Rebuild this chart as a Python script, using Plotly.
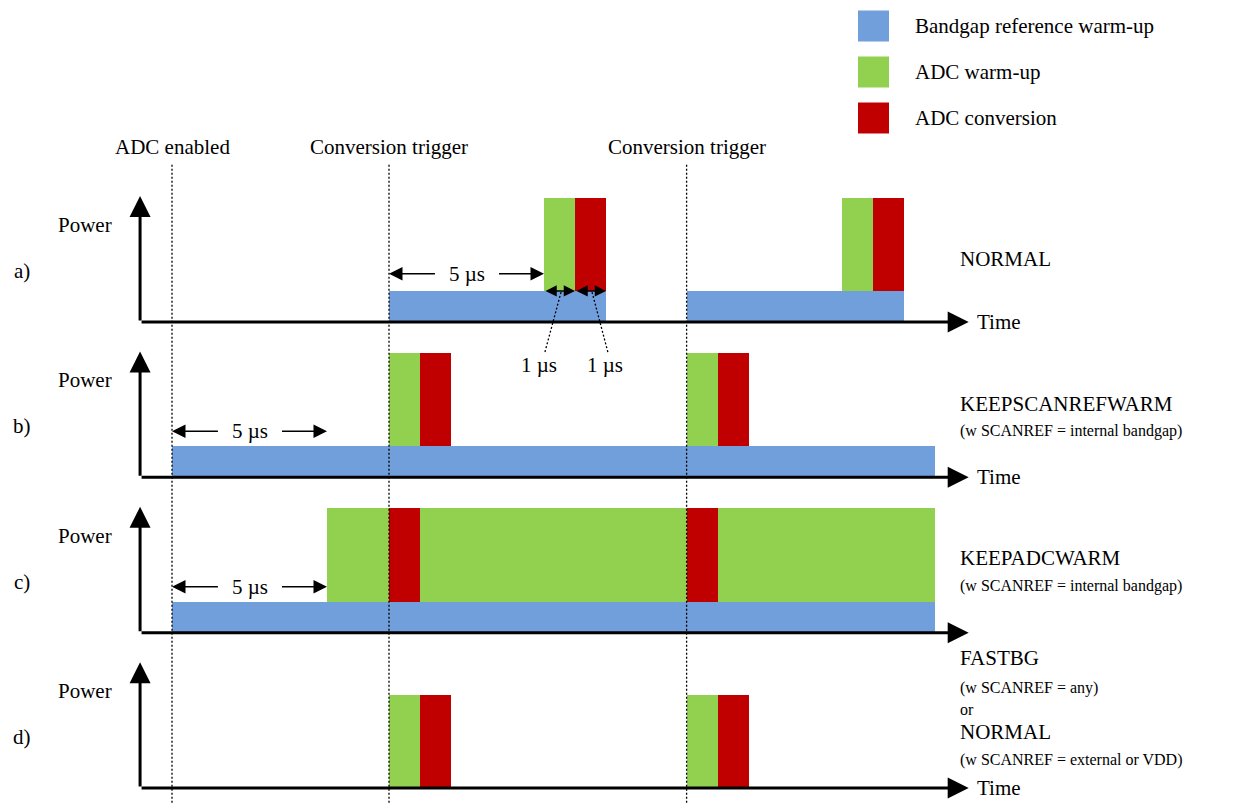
import plotly.graph_objects as go

BLUE = "#719fdc"
GREEN = "#92d050"
RED = "#c00000"
FONT = "Liberation Serif"

# ---- data (time in µs, power in arbitrary units) ----
row_names = ["a)", "b)", "c)", "d)"]
row_base = [15, 10, 5, 0]
mode_labels = [
    [("NORMAL", 2.03, 21)],
    [("KEEPSCANREFWARM", 2.35, 21), ("(w SCANREF = internal bandgap)", 1.48, 16)],
    [("KEEPADCWARM", 2.4, 21), ("(w SCANREF = internal bandgap)", 1.51, 16)],
    [("FASTBG", 4.19, 21), ("(w SCANREF = any)", 3.22, 16), ("or", 2.54, 16),
     ("NORMAL", 1.8, 21), ("(w SCANREF = external or VDD)", 0.9, 16)],
]
show_time = [True, True, False, True]

t_enable = 0.0
t_trigger = [7.0, 16.6]
t_axis_start = -1.03
t_axis_end = 25.7

# bandgap reference warm-up segments
blue_row = [0, 0, 1, 2]
blue_start = [7.0, 16.6, 0.0, 0.0]
blue_len = [7.0, 7.0, 24.6, 24.6]
blue_level = [0, 0, 0, 0]
blue_h = 1.0

# ADC warm-up segments
green_row = [0, 0, 1, 1, 2, 3, 3]
green_start = [12.0, 21.6, 7.0, 16.6, 5.0, 7.0, 16.6]
green_len = [1.0, 1.0, 1.0, 1.0, 19.6, 1.0, 1.0]
green_level = [1, 1, 1, 1, 1, 0, 0]

# ADC conversion segments
red_row = [0, 0, 1, 1, 2, 2, 3, 3]
red_start = [13.0, 22.6, 8.0, 17.6, 7.0, 16.6, 8.0, 17.6]
red_len = [1.0] * 8
red_level = [1, 1, 1, 1, 1, 1, 0, 0]
adc_h = 3.0

# 5 µs spans
span_row = [0, 1, 2]
span_start = [7.0, 0.0, 0.0]
span_len = [5.0, 5.0, 5.0]
span_y = [1.55, 1.48, 1.48]

# 1 µs spans (row a)
small_start = [12.0, 13.0]
small_len = [1.0, 1.0]

legend_names = ["Bandgap reference warm-up", "ADC warm-up", "ADC conversion"]
legend_colors = [BLUE, GREEN, RED]

# page offset of the plot inside the browser window
OFF = 8
W, H = 1246, 803

fig = go.Figure()


def add_bars(rows, starts, lens, levels, h, color, name):
    fig.add_trace(go.Bar(
        orientation="h",
        base=starts,
        x=lens,
        y=[row_base[r] + lv + h / 2 for r, lv in zip(rows, levels)],
        width=[h] * len(rows),
        marker=dict(color=color, line=dict(width=0)),
        name=name, showlegend=False, hoverinfo="skip"))


add_bars(blue_row, blue_start, blue_len, blue_level, blue_h, BLUE, legend_names[0])
add_bars(green_row, green_start, green_len, green_level, adc_h, GREEN, legend_names[1])
add_bars(red_row, red_start, red_len, red_level, adc_h, RED, legend_names[2])

ann = []


def note(x, y, text, size=21, xanchor="center"):
    ann.append(dict(x=x, y=y, xref="x", yref="y", text=text, showarrow=False,
                    xanchor=xanchor, yanchor="middle",
                    font=dict(family=FONT, size=size, color="black")))


def arrow(x0, y0, x1, y1, width=1.5, size=1.8, both=False):
    ann.append(dict(x=x1, y=y1, ax=x0, ay=y0, xref="x", yref="y",
                    axref="x", ayref="y", text="", showarrow=True,
                    arrowhead=2, startarrowhead=2, arrowwidth=width,
                    arrowsize=size, startarrowsize=size,
                    arrowside="end+start" if both else "end",
                    arrowcolor="black", standoff=0, startstandoff=0))


# axes of each row
for i, b in enumerate(row_base):
    arrow(t_axis_start, b, t_axis_start, b + 4.05, width=3, size=1.4)
    arrow(t_axis_start, b, t_axis_end, b, width=3, size=1.4)
    note(-2.81, b + 3.12, "Power")
    note(-4.84, b + 1.64, row_names[i])
    if show_time[i]:
        note(25.9, b, "Time", xanchor="left")
    for text, dy, sz in mode_labels[i]:
        note(25.35, b + dy, text, size=sz, xanchor="left")

# 5 µs spans
for r, s, l, dy in zip(span_row, span_start, span_len, span_y):
    y = row_base[r] + dy
    mid = s + l / 2
    arrow(mid - 0.97, y, s, y)
    arrow(mid + 1.0, y, s + l, y)
    note(mid, y, "5 µs")

DOT = dict(color="black", width=1.3, dash="2px,2px")

# 1 µs spans with leader lines
shapes = []
ya = row_base[0] + blue_h
for s, l, k in zip(small_start, small_len, [0, 1]):
    arrow(s, ya, s + l, ya, width=1.5, size=1.5, both=True)
    lx0 = s + l * 0.55
    lx1 = s + (0.03 if k == 0 else l + 0.06)
    shapes.append(dict(type="line", xref="x", yref="y", x0=lx0, y0=ya - 0.04,
                       x1=lx1, y1=row_base[0] - 0.97, line=DOT))
    note(lx1 - 0.2 if k == 0 else lx1 - 0.1, row_base[0] - 1.39, "1 µs")

# event markers
events = [("ADC enabled", t_enable)] + [("Conversion trigger", t) for t in t_trigger]
for label, t in events:
    shapes.append(dict(type="line", xref="x", yref="y", x0=t, x1=t, y0=-0.6, y1=20.1,
                       line=DOT, layer="above"))
    note(t, 20.63, label)

# legend
for k, (name, col) in enumerate(zip(legend_names, legend_colors)):
    yc = 26 + 46 * k - OFF
    x0 = 858 - OFF
    shapes.append(dict(type="rect", xref="paper", yref="paper",
                       x0=x0 / W, x1=(x0 + 31) / W,
                       y0=1 - (yc + 15.5) / H, y1=1 - (yc - 15.5) / H,
                       fillcolor=col, line=dict(width=0)))
    ann.append(dict(x=(913 - OFF) / W, y=1 - yc / H, xref="paper", yref="paper",
                    text=name, showarrow=False, xanchor="left", yanchor="middle",
                    font=dict(family=FONT, size=21, color="black")))

fig.update_layout(
    width=W, height=H,
    margin=dict(l=0, r=0, t=0, b=0),
    paper_bgcolor="white", plot_bgcolor="white",
    barmode="overlay", bargap=0,
    xaxis=dict(range=[(OFF - 172) / 31, (W + OFF - 172) / 31], visible=False, fixedrange=True),
    yaxis=dict(range=[(788 - OFF - H) / 31.07, (788 - OFF) / 31.07], visible=False, fixedrange=True),
    shapes=shapes, annotations=ann,
    showlegend=False,
)

fig.write_html("out.html")
